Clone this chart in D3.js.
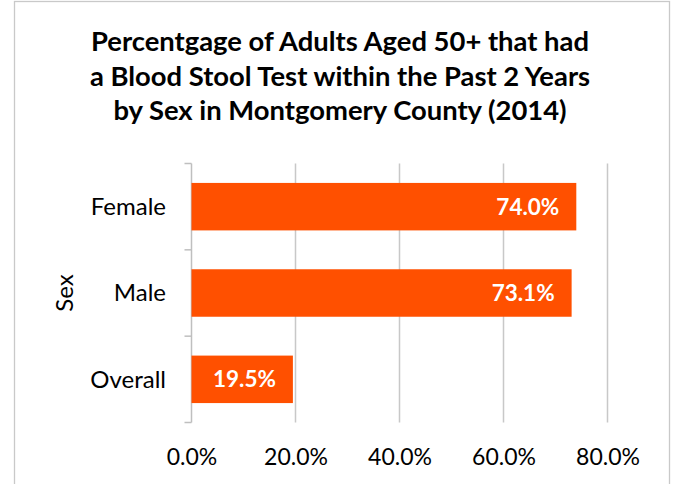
<!DOCTYPE html>
<html>
<head>
<meta charset="utf-8">
<script src="https://cdn.jsdelivr.net/npm/d3@7"></script>
<style>
  html, body { margin: 0; padding: 0; background: #fff; }
  svg { display: block; font-family: Lato, "Open Sans", sans-serif; }
</style>
</head>
<body>
<svg id="chart" width="676" height="484"></svg>
<script>
// Screening rates by sex, Montgomery County 2014
const categories = ["Female", "Male", "Overall"];
const values = [74.0, 73.1, 19.5];
const tickValues = [0, 20, 40, 60, 80];
const titleLines = [
  "Percentgage of Adults Aged 50+ that had",
  "a Blood Stool Test within the Past 2 Years",
  "by Sex in Montgomery County (2014)"
];
const yAxisTitle = "Sex";

const svg = d3.select("#chart");
const plot = { left: 191.5, right: 607.5, top: 163.5, bottom: 422.5 };

// chart frame
svg.append("rect")
  .attr("x", 14.5).attr("y", 1.5)
  .attr("width", 655).attr("height", 500)
  .attr("fill", "#fff").attr("stroke", "#c9c9c9").attr("stroke-width", 1.3);

// title
svg.append("g").selectAll("text").data(titleLines).join("text")
  .attr("x", 340).attr("y", (d, i) => 51 + i * 34.7)
  .attr("text-anchor", "middle")
  .attr("font-size", 27.4).attr("font-weight", 700).attr("fill", "#000")
  .text(d => d);

const x = d3.scaleLinear().domain([0, 80]).range([plot.left, plot.right]);
const y = d3.scaleBand().domain(categories).range([plot.top, plot.bottom])
  .paddingInner(0.45).paddingOuter(0.225);

// vertical gridlines
svg.append("g").selectAll("line").data(tickValues.slice(1)).join("line")
  .attr("x1", d => x(d)).attr("x2", d => x(d))
  .attr("y1", plot.top).attr("y2", plot.bottom)
  .attr("stroke", "#c8c8c8").attr("stroke-width", 1.5);

// x tick labels
const xAxis = d3.axisBottom(x).tickValues(tickValues)
  .tickFormat(d => d3.format(".1f")(d) + "%").tickSize(0).tickPadding(0);
const gx = svg.append("g").attr("transform", `translate(0,465)`).call(xAxis);
gx.select(".domain").remove();
gx.selectAll("text").attr("font-size", 23).attr("fill", "#000")
  .attr("font-family", "Lato, 'Open Sans', sans-serif").attr("dy", 0);

// category axis with tick marks between bands
const bandEdges = d3.range(categories.length + 1)
  .map(i => plot.top + i * (plot.bottom - plot.top) / categories.length);
const gy = svg.append("g");
gy.append("line")
  .attr("x1", plot.left).attr("x2", plot.left)
  .attr("y1", plot.top).attr("y2", plot.bottom)
  .attr("stroke", "#bfbfbf").attr("stroke-width", 1.5);
gy.selectAll("line.tick").data(bandEdges).join("line")
  .attr("class", "tick")
  .attr("x1", plot.left - 7).attr("x2", plot.left)
  .attr("y1", d => d).attr("y2", d => d)
  .attr("stroke", "#bfbfbf").attr("stroke-width", 1.5);
gy.selectAll("text").data(categories).join("text")
  .attr("x", 166).attr("y", d => y(d) + y.bandwidth() / 2)
  .attr("dy", "0.35em").attr("text-anchor", "end")
  .attr("font-size", 24).attr("fill", "#000")
  .text(d => d);

svg.append("text")
  .attr("transform", `translate(73,${(plot.top + plot.bottom) / 2}) rotate(-90)`)
  .attr("text-anchor", "middle").attr("font-size", 24).attr("fill", "#000")
  .text(yAxisTitle);

// bars
const rows = categories.map((c, i) => ({ cat: c, val: values[i] }));
svg.append("g").selectAll("rect").data(rows).join("rect")
  .attr("x", x(0)).attr("y", d => y(d.cat))
  .attr("width", d => x(d.val) - x(0)).attr("height", y.bandwidth())
  .attr("fill", "#ff5000");

// value labels inside bar ends
svg.append("g").selectAll("text").data(rows).join("text")
  .attr("x", d => x(d.val) - 17).attr("y", d => y(d.cat) + y.bandwidth() / 2)
  .attr("dy", "0.35em").attr("text-anchor", "end")
  .attr("font-size", 22.5).attr("font-weight", 700).attr("fill", "#fff")
  .text(d => d.val.toFixed(1) + "%");
</script>
</body>
</html>
